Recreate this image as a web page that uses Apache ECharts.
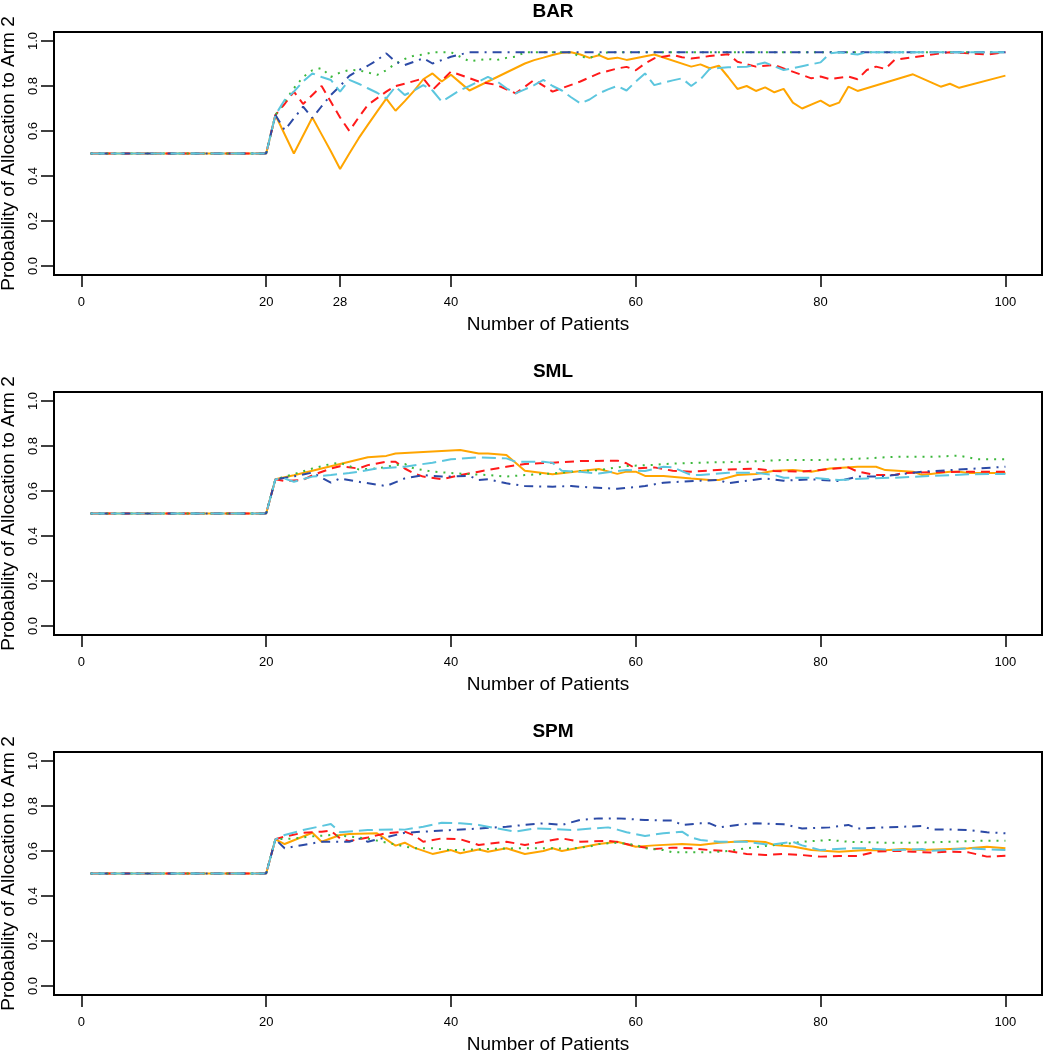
<!DOCTYPE html>
<html>
<head>
    <meta charset="UTF-8">
    <title>Allocation probability</title>
    <style>
        html,body{margin:0;padding:0;background:#fff;}
        #chart{width:1044px;height:1050px;}
    </style>
</head>
<body>
<div id="chart"></div>
<script src="https://cdn.jsdelivr.net/npm/echarts/dist/echarts.min.js"></script>
<script>
    // panel titles and tick labels
    const panels = ['BAR', 'SML', 'SPM'];
    const xTicksBar = [0, 20, 28, 40, 60, 80, 100];
    const xTicks = [0, 20, 40, 60, 80, 100];
    const yTicks = [0, 0.2, 0.4, 0.6, 0.8, 1.0];

    // BAR: [patient number, probability] at the turning points of each line
    const barOrange = [[1,.5],[20,.5],[21,.671],[23,.50],[25,.66],[26,.585],[27,.51],[28,.431],[29,.50],[30,.567],[31,.627],[32,.686],[33,.744],[34,.69],[35,.733],[36,.778],[37,.83],[38,.856],[39,.82],[40,.85],[41,.815],[42,.78],[43,.80],[44,.82],[45,.84],[46,.86],[47,.88],[48,.90],[49,.915],[50,.926],[51,.938],[52,.948],[53,.95],[54,.94],[55,.925],[56,.937],[57,.92],[58,.926],[59,.916],[62,.94],[66,.886],[67,.896],[68,.879],[69,.89],[70,.84],[71,.787],[72,.80],[73,.778],[74,.794],[75,.772],[76,.787],[77,.726],[78,.70],[80,.735],[81,.711],[82,.726],[83,.797],[84,.778],[90,.852],[93,.797],[94,.81],[95,.792],[100,.846]];
    const barRed = [[1,.5],[20,.5],[21,.671],[22,.72],[23,.775],[24,.72],[25,.76],[26,.80],[27,.73],[28,.66],[29,.60],[30,.66],[31,.716],[33,.775],[34,.80],[35,.81],[37,.834],[38,.782],[40,.864],[43,.82],[45,.804],[47,.767],[49,.827],[51,.775],[52,.79],[54,.82],[56,.856],[58,.878],[59,.885],[60,.87],[61,.90],[62,.923],[64,.938],[65,.928],[66,.922],[68,.933],[70,.941],[71,.908],[73,.886],[75,.893],[79,.834],[80,.842],[81,.83],[83,.842],[84,.83],[85,.871],[86,.886],[87,.876],[88,.916],[93,.945],[94,.95],[96,.945],[98,.94],[100,.95]];
    const barGreen = [[1,.5],[20,.5],[21,.671],[22,.73],[23,.79],[24,.84],[25,.87],[26,.88],[27,.84],[28,.86],[29,.871],[30,.87],[31,.86],[32,.849],[33,.87],[34,.90],[35,.92],[36,.935],[37,.94],[38,.95],[40,.95],[41,.93],[42,.91],[43,.915],[44,.92],[45,.916],[46,.925],[47,.93],[48,.95],[53,.95],[54,.93],[55,.925],[56,.94],[57,.95],[100,.95]];
    const barBlue = [[1,.5],[20,.5],[21,.671],[22,.604],[23,.656],[24,.708],[25,.658],[26,.71],[27,.76],[28,.80],[29,.845],[30,.87],[31,.89],[32,.915],[33,.945],[34,.908],[35,.893],[36,.908],[37,.923],[38,.90],[39,.915],[40,.93],[41,.94],[42,.95],[100,.95]];
    const barLight = [[1,.5],[20,.5],[21,.671],[22,.738],[23,.775],[24,.82],[25,.856],[26,.84],[27,.827],[28,.775],[29,.827],[30,.81],[31,.79],[32,.77],[33,.745],[34,.797],[35,.76],[36,.78],[37,.804],[38,.78],[39,.73],[40,.756],[41,.782],[42,.80],[43,.82],[44,.841],[45,.82],[46,.79],[47,.767],[48,.785],[49,.804],[50,.827],[51,.80],[52,.78],[53,.75],[54,.723],[55,.74],[56,.767],[57,.785],[58,.80],[59,.78],[60,.82],[61,.856],[62,.804],[63,.815],[64,.825],[65,.834],[66,.80],[67,.83],[68,.876],[69,.88],[70,.883],[72,.886],[74,.904],[76,.871],[78,.888],[80,.905],[81,.945],[82,.95],[84,.94],[85,.95],[100,.95]];

    // SML
    const smlOrange = [[1,.5],[20,.5],[21,.652],[23,.67],[25,.69],[28,.72],[29,.73],[31,.75],[33,.756],[34,.767],[41,.782],[43,.767],[44,.767],[46,.76],[48,.69],[51,.674],[56,.698],[58,.676],[59,.686],[60,.686],[61,.667],[63,.667],[66,.656],[68,.649],[69,.649],[71,.671],[73,.676],[75,.69],[77,.693],[79,.686],[81,.70],[84,.708],[86,.708],[87,.693],[90,.686],[91,.671],[94,.686],[95,.686],[96,.68],[100,.68]];
    const smlRed = [[1,.5],[20,.5],[21,.652],[22,.645],[24,.649],[25,.67],[27,.70],[28,.71],[30,.70],[31,.715],[33,.73],[34,.73],[35,.70],[36,.678],[37,.664],[39,.652],[41,.671],[43,.686],[46,.708],[48,.72],[51,.726],[54,.733],[58,.735],[59,.723],[60,.70],[62,.705],[64,.69],[66,.686],[70,.696],[73,.699],[75,.689],[78,.686],[81,.698],[83,.705],[84,.686],[86,.671],[88,.671],[89,.68],[92,.683],[96,.686],[100,.686]];
    const smlGreen = [[1,.5],[20,.5],[21,.652],[23,.675],[25,.70],[27,.72],[28,.725],[30,.696],[32,.70],[34,.715],[35,.72],[36,.70],[38,.686],[40,.68],[42,.675],[44,.671],[46,.664],[48,.671],[51,.678],[53,.686],[56,.693],[59,.711],[62,.716],[63,.72],[67,.726],[72,.73],[76,.738],[80,.738],[85,.745],[88,.752],[92,.752],[95,.757],[97,.741],[100,.741]];
    const smlBlue = [[1,.5],[20,.5],[21,.652],[23,.665],[25,.682],[27,.637],[28,.656],[30,.641],[33,.622],[35,.656],[37,.671],[39,.664],[42,.667],[43,.649],[44,.652],[46,.634],[48,.622],[51,.619],[53,.622],[55,.616],[58,.61],[61,.622],[63,.637],[67,.646],[69,.649],[70,.634],[72,.646],[74,.656],[76,.646],[79,.652],[82,.644],[84,.664],[86,.664],[88,.671],[91,.686],[94,.693],[97,.70],[100,.708]];
    const smlLight = [[1,.5],[20,.5],[21,.652],[22,.655],[23,.641],[25,.664],[27,.671],[29,.68],[30,.686],[32,.70],[35,.708],[38,.726],[40,.741],[43,.75],[46,.745],[47,.73],[50,.73],[51,.725],[52,.69],[54,.685],[56,.678],[57,.683],[59,.693],[61,.689],[63,.708],[64,.705],[66,.671],[67,.671],[70,.681],[73,.681],[75,.671],[76,.659],[79,.659],[82,.649],[85,.656],[88,.659],[92,.667],[96,.674],[100,.676]];

    // SPM
    const spmOrange = [[1,.5],[20,.5],[21,.652],[22,.631],[25,.681],[26,.641],[28,.671],[29,.676],[32,.679],[34,.624],[35,.637],[36,.615],[38,.587],[40,.604],[41,.59],[43,.607],[44,.597],[46,.612],[48,.587],[50,.60],[51,.612],[52,.60],[56,.631],[58,.641],[60,.619],[62,.625],[65,.631],[67,.627],[69,.637],[72,.644],[74,.64],[75,.627],[77,.62],[79,.604],[82,.597],[85,.604],[87,.603],[89,.609],[91,.604],[94,.609],[96,.612],[98,.619],[100,.612]];
    const spmRed = [[1,.5],[20,.5],[21,.652],[22,.664],[24,.681],[26,.686],[27,.69],[28,.656],[29,.644],[31,.66],[33,.679],[35,.686],[36,.67],[37,.641],[39,.656],[41,.652],[43,.627],[46,.641],[48,.627],[51,.649],[52,.656],[54,.641],[57,.645],[58,.64],[60,.622],[62,.609],[64,.615],[66,.612],[68,.604],[70,.60],[72,.587],[74,.582],[76,.587],[78,.582],[80,.575],[82,.578],[84,.578],[86,.597],[88,.601],[90,.597],[92,.593],[94,.597],[96,.594],[98,.575],[100,.579]];
    const spmGreen = [[1,.5],[20,.5],[21,.652],[23,.655],[25,.665],[27,.671],[29,.665],[31,.655],[33,.637],[36,.612],[38,.612],[40,.604],[43,.608],[47,.612],[51,.612],[53,.61],[55,.62],[56,.631],[58,.637],[60,.627],[61,.612],[63,.604],[64,.594],[68,.594],[70,.60],[72,.612],[74,.622],[76,.631],[78,.641],[81,.649],[83,.641],[87,.637],[90,.637],[94,.641],[98,.646],[100,.646]];
    const spmBlue = [[1,.5],[20,.5],[21,.652],[22,.612],[24,.627],[26,.641],[29,.641],[30,.656],[31,.641],[33,.661],[35,.681],[37,.686],[40,.693],[43,.70],[46,.708],[48,.716],[50,.723],[52,.716],[54,.738],[56,.745],[58,.745],[61,.738],[64,.735],[65,.716],[67,.723],[68,.723],[69,.705],[71,.716],[73,.723],[76,.719],[78,.70],[81,.705],[83,.716],[84,.70],[87,.705],[91,.711],[92,.696],[94,.696],[96,.693],[98,.683],[100,.679]];
    const spmLight = [[1,.5],[20,.5],[21,.652],[22,.671],[24,.693],[27,.72],[28,.683],[30,.69],[31,.693],[34,.696],[35,.695],[37,.708],[39,.726],[41,.723],[43,.716],[45,.70],[47,.686],[49,.70],[51,.698],[53,.693],[57,.705],[58,.695],[59,.683],[61,.667],[63,.679],[65,.686],[66,.66],[67,.649],[69,.641],[72,.641],[74,.63],[75,.63],[77,.641],[78,.625],[80,.604],[83,.612],[85,.612],[88,.604],[91,.609],[92,.601],[94,.606],[96,.612],[98,.607],[100,.604]];

    const panelData = [
        [barOrange, barRed, barGreen, barBlue, barLight],
        [smlOrange, smlRed, smlGreen, smlBlue, smlLight],
        [spmOrange, spmRed, spmGreen, spmBlue, spmLight]
    ];

    const styles = [
        {color: '#ffa500', type: 'solid'},
        {color: '#ff1a1a', type: [9, 6]},
        {color: '#3cb83c', type: [2, 6]},
        {color: '#2c4aa6', type: [2, 6, 9, 6]},
        {color: '#5cc6de', type: [14, 6]}
    ];

    const font = 'Liberation Sans, Arial, Helvetica, sans-serif';
    const tops = [32, 392, 752];

    let grid = [], xAxis = [], yAxis = [], title = [], series = [];
    panels.forEach(function (name, i) {
        grid.push({left: 54, top: tops[i], width: 988, height: 243, show: true,
            outerBoundsMode: 'none', containLabel: false,
            borderColor: '#000', borderWidth: 2, backgroundColor: 'transparent'});
        title.push({text: name, left: 548, top: tops[i] - 35, textAlign: 'center',
            textStyle: {fontFamily: font, fontSize: 19, fontWeight: 'bold', color: '#000'}});
        let ticks = i === 0 ? xTicksBar : xTicks;
        xAxis.push({
            type: 'value', gridIndex: i, min: -2.96, max: 103.96,
            name: 'Number of Patients', nameLocation: 'middle', nameGap: 40,
            nameTextStyle: {fontFamily: font, fontSize: 19, color: '#000'},
            axisLine: {show: false, onZero: false},
            axisTick: {show: true, length: 12, customValues: ticks, lineStyle: {color: '#000', width: 1.5}},
            axisLabel: {show: true, customValues: ticks, margin: 21,
                fontFamily: font, fontSize: 13, color: '#000'},
            splitLine: {show: false}
        });
        yAxis.push({
            type: 'value', gridIndex: i, min: -0.04, max: 1.04,
            name: 'Probability of Allocation to Arm 2', nameLocation: 'middle', nameGap: 36,
            nameTextStyle: {fontFamily: font, fontSize: 19, color: '#000'},
            axisLine: {show: false, onZero: false},
            axisTick: {show: true, length: 13, customValues: yTicks, lineStyle: {color: '#000', width: 1.5}},
            axisLabel: {show: true, customValues: yTicks, rotate: 90, margin: 14,
                fontFamily: font, fontSize: 13, color: '#000',
                formatter: function (v) { return v.toFixed(1); }},
            splitLine: {show: false}
        });
        panelData[i].forEach(function (d, k) {
            series.push({
                type: 'line', xAxisIndex: i, yAxisIndex: i, data: d,
                symbol: 'none', showSymbol: false, smooth: false,
                lineStyle: {color: styles[k].color, type: styles[k].type, width: 2},
                z: 2 + k
            });
        });
    });

    let myChart = echarts.init(document.getElementById('chart'));
    myChart.setOption({
        animation: false,
        backgroundColor: '#fff',
        title: title,
        grid: grid,
        xAxis: xAxis,
        yAxis: yAxis,
        series: series
    });
</script>
</body>
</html>
